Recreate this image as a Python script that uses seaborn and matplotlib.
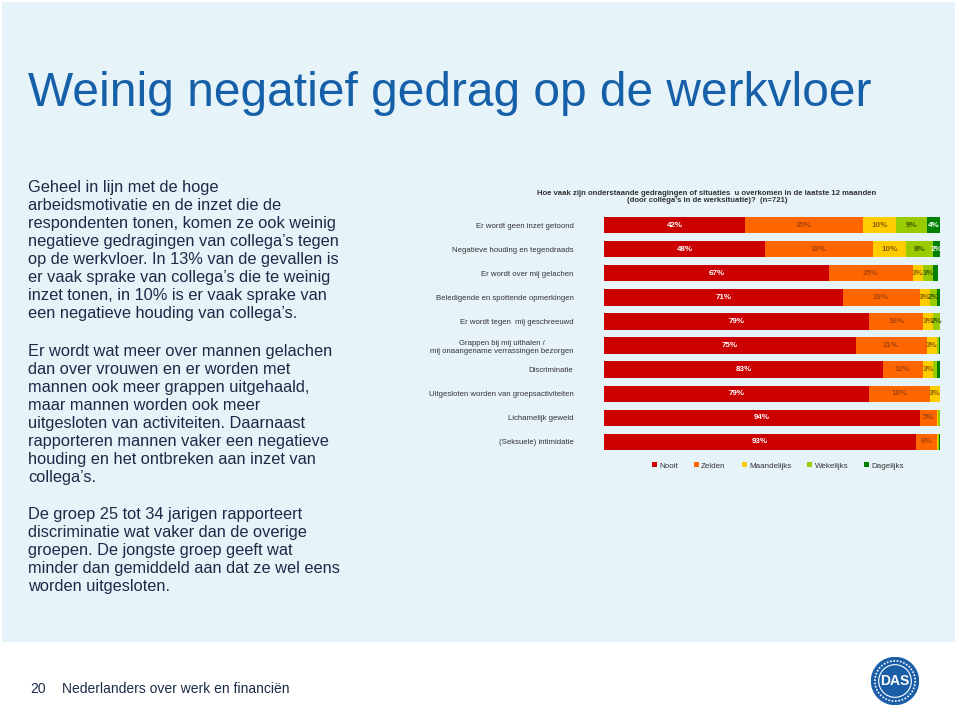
import numpy as np
import pandas as pd
import seaborn as sns
import matplotlib.pyplot as plt
from matplotlib.patches import Rectangle, Circle, Patch

# data
categorieen = [
    "Er wordt geen inzet getoond",
    "Negatieve houding en tegendraads",
    "Er wordt over mij gelachen",
    "Beledigende en spottende opmerkingen",
    "Er wordt tegen  mij geschreeuwd",
    "Grappen bij mij uithalen /\nmij onaangename verrassingen bezorgen",
    "Discriminatie",
    "Uitgesloten worden van groepsactiviteiten",
    "Lichamelijk geweld",
    "(Seksuele) intimidatie",
]
nooit = [42, 48, 67, 71, 79, 75, 83, 79, 94, 93]
zelden = [35, 32, 25, 23, 16, 21, 12, 18, 5, 6]
maandelijks = [10, 10, 3, 3, 3, 3, 3, 3, 0.5, 0.5]
wekelijks = [9, 8, 3, 2, 2, 0.6, 1, 0.5, 0.4, 0.3]
dagelijks = [4, 2, 1.5, 1, 0.5, 0.4, 1, 0.5, 0.1, 0.2]

reeksen = ["Nooit", "Zelden", "Maandelijks", "Wekelijks", "Dagelijks"]
kleuren = ["#cc0000", "#ff6600", "#ffcc00", "#99cc00", "#008000"]
labelkleur = ["white", "#a8430a", "#8a5d00", "#3f5a00", "white"]

df = pd.DataFrame({"categorie": categorieen, "Nooit": nooit, "Zelden": zelden,
                   "Maandelijks": maandelijks, "Wekelijks": wekelijks,
                   "Dagelijks": dagelijks})
cum = df[reeksen].cumsum(axis=1)

sns.set_theme(style="white")
plt.rcParams['font.family'] = ['Liberation Sans', 'DejaVu Sans']

fig = plt.figure(figsize=(9.6, 7.07), dpi=100)
fig.patch.set_facecolor("white")

def fx(px):
    return px / 960

def fy(py):
    return 1 - py / 707

# lichtblauw paneel
fig.patches.append(Rectangle((fx(2), fy(642)), fx(953), 640 / 707,
                             transform=fig.transFigure, facecolor="#e6f3f8",
                             edgecolor="none", zorder=-5))

fig.text(fx(28), fy(93), "Weinig negatief gedrag op de werkvloer", fontsize=34.5,
         color="#1560a8", va="center", ha="left")

tekstkleur = "#1c2a48"
alinea1 = ("Geheel in lijn met de hoge\narbeidsmotivatie en de inzet die de\n"
           "respondenten tonen, komen ze ook weinig\nnegatieve gedragingen van collega’s tegen\n"
           "op de werkvloer. In 13% van de gevallen is\ner vaak sprake van collega’s die te weinig\n"
           "inzet tonen, in 10% is er vaak sprake van\neen negatieve houding van collega’s.")
alinea2 = ("Er wordt wat meer over mannen gelachen\ndan over vrouwen en er worden met\n"
           "mannen ook meer grappen uitgehaald,\nmaar mannen worden ook meer\n"
           "uitgesloten van activiteiten. Daarnaast\nrapporteren mannen vaker een negatieve\n"
           "houding en het ontbreken aan inzet van\ncollega’s.")
alinea3 = ("De groep 25 tot 34 jarigen rapporteert\ndiscriminatie wat vaker dan de overige\n"
           "groepen. De jongste groep geeft wat\nminder dan gemiddeld aan dat ze wel eens\n"
           "worden uitgesloten.")
for tekst, ytop in [(alinea1, 180), (alinea2, 344), (alinea3, 507)]:
    fig.text(fx(28), fy(ytop), tekst, fontsize=11.8, color=tekstkleur, va="top",
             ha="left", linespacing=1.25)

# gestapelde balken
ax = fig.add_axes([fx(604), fy(454), fx(336), (454 - 213) / 707])
ax.set_facecolor("none")
for i in range(len(reeksen) - 1, -1, -1):
    sns.barplot(x=cum[reeksen[i]], y=df["categorie"], color=kleuren[i], width=0.68,
                saturation=1, orient="h", ax=ax, linewidth=0, zorder=2)

for r in range(len(categorieen)):
    start = 0
    for i, s in enumerate(reeksen):
        v = df.loc[r, s]
        if v >= 2:
            ax.text(start + v / 2, r, f"{v:.0f}%", ha="center", va="center",
                    fontsize=5.8, fontweight="bold", color=labelkleur[i], zorder=3)
        start += v

ax.set_xlim(0, 100)
ax.set_ylim(9.5, -0.5)
ax.set_xlabel("")
ax.set_ylabel("")
ax.set_xticks([])
ax.tick_params(axis="y", length=0, pad=22, labelsize=5.6, labelcolor="#333333")
for lbl in ax.get_yticklabels():
    lbl.set_horizontalalignment("right")
    lbl.set_multialignment("center")
sns.despine(ax=ax, left=True, bottom=True)

fig.text(fx(707), fy(197), "Hoe vaak zijn onderstaande gedragingen of situaties  u overkomen in de laatste 12 maanden\n"
         "(door collega’s in de werksituatie)?  (n=721)", fontsize=5.6, fontweight="bold",
         color="#333333", ha="center", va="center", linespacing=1.15)

handles = [Patch(facecolor=k, edgecolor="none") for k in kleuren]
fig.legend(handles, reeksen, loc="center", bbox_to_anchor=(fx(778), fy(466)), ncol=5,
           frameon=False, fontsize=5.8, handlelength=0.6, handleheight=0.6,
           handletextpad=0.3, columnspacing=2.0, labelcolor="#333333")

# voettekst
fig.text(fx(30), fy(689), "20", fontsize=10, color=tekstkleur, va="center")
fig.text(fx(62), fy(689), "Nederlanders over werk en financiën", fontsize=10,
         color=tekstkleur, va="center")

# logo
lax = fig.add_axes([fx(871), fy(705), fx(48), 48 / 707])
lax.set_xlim(-1, 1)
lax.set_ylim(-1, 1)
lax.set_aspect("equal")
lax.axis("off")
lax.add_patch(Circle((0, 0), 0.98, color="#1a5ea8"))
lax.add_patch(Circle((0, 0), 0.84, fill=False, edgecolor="white", linewidth=1.2,
                     linestyle=(0, (1, 1))))
lax.add_patch(Circle((0, 0), 0.68, color="#1a5ea8", ec="white", lw=0.8))
lax.text(0, 0, "DAS", color="white", fontsize=10, fontweight="bold", ha="center",
         va="center", fontstretch="condensed")

fig.savefig("out.png", dpi=100)
